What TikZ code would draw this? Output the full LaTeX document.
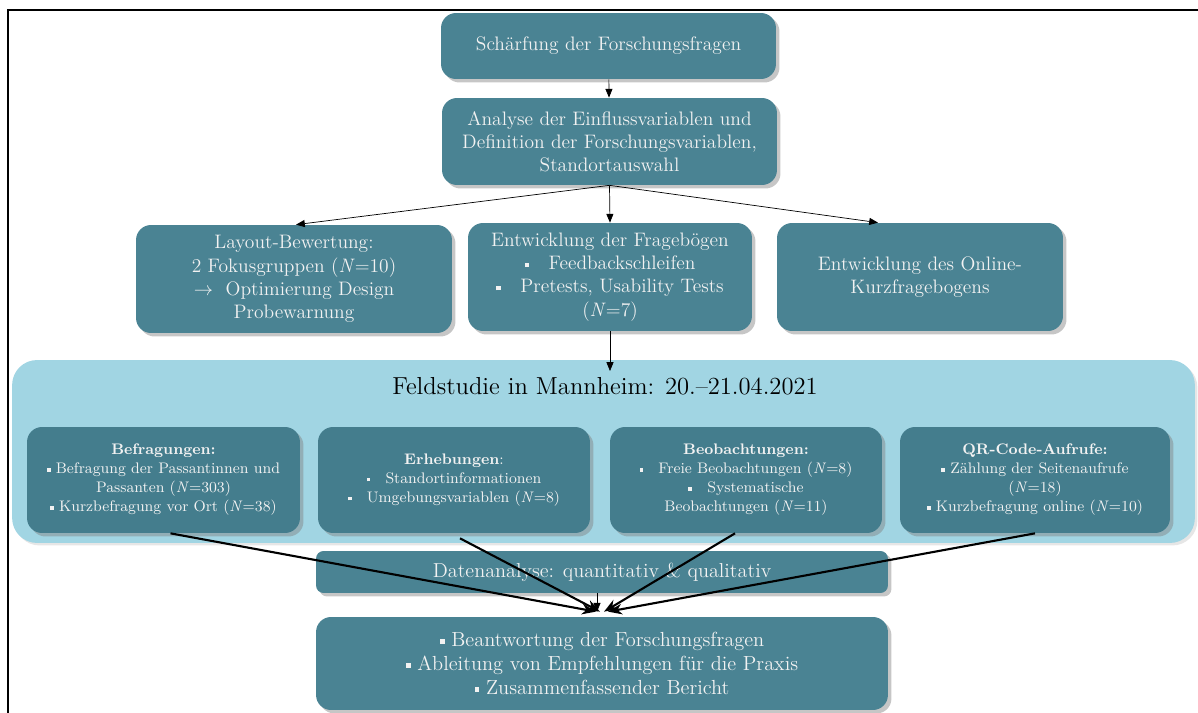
\documentclass[tikz,border=0pt]{standalone}
\usepackage{tikz}
\usetikzlibrary{shadows,arrows.meta}
\definecolor{boxteal}{RGB}{74,131,147}
\definecolor{subteal}{RGB}{68,125,141}
\definecolor{fieldblue}{RGB}{161,213,227}
\newcommand{\sqbul}{\rule[0.3ex]{0.55ex}{0.55ex}}
\tikzset{
  phase/.style={fill=boxteal, rounded corners=0.3cm, text=white!95!black, align=center,
    font=\fontsize{11.1}{13.2}\selectfont,
    drop shadow={shadow xshift=0.07cm, shadow yshift=-0.07cm, opacity=0.45}},
  method/.style={phase, fill=subteal, font=\fontsize{8.7}{10.8}\selectfont},
  flow/.style={-{Triangle[length=5pt,width=4pt]}, thin},
  merge/.style={-{Stealth[length=8pt,width=6pt]}, line width=1.2pt},
}

\begin{document}
\begin{tikzpicture}[x=0.02cm, y=-0.02cm]
  \useasboundingbox (0,0) rectangle (1198,713);
  \draw[line width=1.4pt] (8,713) -- (8,10) -- (1198,10);

  \node[phase, minimum width=6.7cm, minimum height=1.32cm] (top) at (608.5,46) {Schärfung der Forschungsfragen};
  \node[phase, minimum width=6.7cm, minimum height=1.74cm] (ana) at (609.5,141.5)
    {Analyse der Einflussvariablen und\\ Definition der Forschungsvariablen,\\ Standortauswahl};

  \node[phase, minimum width=6.32cm, minimum height=2.16cm] (lay) at (294,279)
    {Layout-Bewertung:\\ 2 Fokusgruppen (\textit{N}=10)\\ $\rightarrow$\ \ Optimierung Design\\ Probewarnung};
  \node[phase, minimum width=5.68cm, minimum height=2.16cm] (frag) at (610,277)
    {Entwicklung der Fragebögen\\ \sqbul\quad Feedbackschleifen\\ \sqbul\quad Pretests, Usability Tests\\ (\textit{N}=7)};
  \node[phase, minimum width=5.72cm, minimum height=2.16cm] (onl) at (920,277)
    {Entwicklung des Online-\\ Kurzfragebogens};

  \node[fill=fieldblue, rounded corners=0.5cm, minimum width=23.66cm, minimum height=3.66cm,
    drop shadow={shadow xshift=0.05cm, shadow yshift=-0.05cm, opacity=0.2}] (field) at (603.5,451.5) {};
  \node[font=\fontsize{14}{16}\selectfont] (title) at (605,386) {Feldstudie in Mannheim: 20.--21.04.2021};

  \node[method, minimum width=5.46cm, minimum height=2.12cm] (befr) at (163.5,480)
    {\textbf{Befragungen:}\\ \sqbul\ Befragung der Passantinnen und\\ Passanten (\textit{N}=303)\\ \sqbul\ Kurzbefragung vor Ort (\textit{N}=38)};
  \node[method, minimum width=5.44cm, minimum height=2.12cm] (erh) at (454,480)
    {\textbf{Erhebungen}:\\ \sqbul\quad Standortinformationen\\ \sqbul\quad Umgebungsvariablen (\textit{N}=8)};
  \node[method, minimum width=5.44cm, minimum height=2.12cm] (beob) at (746,480)
    {\textbf{Beobachtungen:}\\ \sqbul\quad Freie Beobachtungen (\textit{N}=8)\\ \sqbul\quad Systematische\\ Beobachtungen (\textit{N}=11)};
  \node[method, minimum width=5.4cm, minimum height=2.12cm] (qr) at (1035,480)
    {\textbf{QR-Code-Aufrufe:}\\ \sqbul\ Zählung der Seitenaufrufe\\ (\textit{N}=18)\\ \sqbul\ Kurzbefragung online (\textit{N}=10)};

  \node[phase, rounded corners=0.15cm, minimum width=11.44cm, minimum height=0.84cm, font=\fontsize{11.5}{13.5}\selectfont] (dat) at (602,572)
    {Datenanalyse: quantitativ \& qualitativ};
  \node[phase, minimum width=11.44cm, minimum height=1.86cm, font=\fontsize{11.6}{13.8}\selectfont] (res) at (602,663.5)
    {\sqbul\ Beantwortung der Forschungsfragen\\ \sqbul\ Ableitung von Empfehlungen für die Praxis\\ \sqbul\ Zusammenfassender Bericht};

  \draw[flow] (top) -- (ana);
  \draw[flow] (ana.south) -- ([xshift=0.04cm]lay.north);
  \draw[flow] (ana.south) -- (frag.north);
  \draw[flow] (ana.south) -- ([xshift=-0.84cm]onl.north);
  \draw[flow] (frag.south) -- (frag.south |- title.north);

  \draw[merge] ([xshift=0.14cm]befr.south) -- ([xshift=-0.12cm, yshift=0.1cm]res.north);
  \draw[merge] ([xshift=0.12cm, yshift=-0.1cm]erh.south) -- ([xshift=-0.04cm, yshift=0.1cm]res.north);
  \draw[merge] ([xshift=-0.22cm]beob.south) -- ([xshift=0.04cm, yshift=0.1cm]res.north);
  \draw[merge] (qr.south) -- ([xshift=0.12cm, yshift=0.1cm]res.north);
  \draw[flow] ([xshift=-0.1cm]dat.south) -- ([xshift=-0.1cm, yshift=0.1cm]res.north);
\end{tikzpicture}
\end{document}
